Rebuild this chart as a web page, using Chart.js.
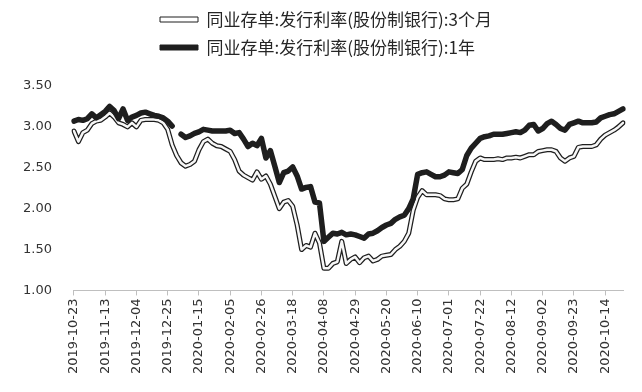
<!DOCTYPE html>
<html>
<head>
<meta charset="utf-8">
<script src="https://cdn.jsdelivr.net/npm/chart.js@4.4.1/dist/chart.umd.min.js"></script>
<style>
html,body{margin:0;padding:0;background:#fff;}
canvas{display:block;}
</style>
</head>
<body>
<canvas id="c" width="642" height="392"></canvas>
<script>
// ---- data ----
const seriesNames = ['同业存单:发行利率(股份制银行):3个月', '同业存单:发行利率(股份制银行):1年'];

const dates = [
 '2019-10-23','2019-10-26','2019-10-29','2019-11-01','2019-11-04','2019-11-07','2019-11-10',
 '2019-11-13','2019-11-16','2019-11-19','2019-11-22','2019-11-25','2019-11-28','2019-12-01',
 '2019-12-04','2019-12-07','2019-12-10','2019-12-13','2019-12-16','2019-12-19','2019-12-22',
 '2019-12-25','2019-12-28','2019-12-31','2020-01-03','2020-01-06','2020-01-09','2020-01-12',
 '2020-01-15','2020-01-18','2020-01-21','2020-01-24','2020-01-27','2020-01-30','2020-02-02',
 '2020-02-05','2020-02-08','2020-02-11','2020-02-14','2020-02-17','2020-02-20','2020-02-23',
 '2020-02-26','2020-02-29','2020-03-03','2020-03-06','2020-03-09','2020-03-12','2020-03-15',
 '2020-03-18','2020-03-21','2020-03-24','2020-03-27','2020-03-30','2020-04-02','2020-04-05',
 '2020-04-08','2020-04-11','2020-04-14','2020-04-17','2020-04-20','2020-04-23','2020-04-26',
 '2020-04-29','2020-05-02','2020-05-05','2020-05-08','2020-05-11','2020-05-14','2020-05-17',
 '2020-05-20','2020-05-23','2020-05-26','2020-05-29','2020-06-01','2020-06-04','2020-06-07',
 '2020-06-10','2020-06-13','2020-06-16','2020-06-19','2020-06-22','2020-06-25','2020-06-28',
 '2020-07-01','2020-07-04','2020-07-07','2020-07-10','2020-07-13','2020-07-16','2020-07-19',
 '2020-07-22','2020-07-25','2020-07-28','2020-07-31','2020-08-03','2020-08-06','2020-08-09',
 '2020-08-12','2020-08-15','2020-08-18','2020-08-21','2020-08-24','2020-08-27','2020-08-30',
 '2020-09-02','2020-09-05','2020-09-08','2020-09-11','2020-09-14','2020-09-17','2020-09-20',
 '2020-09-23','2020-09-26','2020-09-29','2020-10-02','2020-10-05','2020-10-08','2020-10-11',
 '2020-10-14','2020-10-17','2020-10-20','2020-10-23','2020-10-26'
];

const rate3m = [
 2.95,2.82,2.93,2.96,3.04,3.07,3.08,
 3.12,3.17,3.12,3.05,3.03,3.00,3.05,
 3.00,3.08,3.09,3.09,3.09,3.08,3.05,
 2.97,2.78,2.65,2.56,2.52,2.54,2.58,
 2.72,2.82,2.85,2.80,2.77,2.76,2.73,
 2.70,2.60,2.46,2.41,2.38,2.35,2.45,
 2.36,2.40,2.30,2.15,2.00,2.08,2.10,
 2.03,1.80,1.50,1.55,1.53,1.70,1.58,
 1.27,1.27,1.33,1.35,1.60,1.33,1.38,
 1.41,1.34,1.40,1.42,1.36,1.38,1.42,
 1.43,1.44,1.50,1.54,1.60,1.70,1.98,
 2.14,2.22,2.17,2.17,2.17,2.16,2.12,
 2.11,2.11,2.12,2.25,2.30,2.45,2.58,
 2.62,2.60,2.60,2.60,2.61,2.60,2.62,
 2.62,2.63,2.62,2.64,2.66,2.66,2.70,
 2.71,2.72,2.72,2.70,2.62,2.58,2.62,
 2.64,2.75,2.76,2.76,2.76,2.78,2.85,
 2.90,2.93,2.96,3.00,3.05
];

const rate1y = [
 3.07,3.09,3.08,3.10,3.16,3.11,3.15,
 3.19,3.25,3.20,3.10,3.22,3.08,3.12,
 3.14,3.17,3.18,3.16,3.14,3.13,3.11,
 3.07,3.01,null,2.91,2.87,2.89,2.92,
 2.94,2.97,2.96,2.95,2.95,2.95,2.95,
 2.96,2.92,2.93,2.85,2.76,2.80,2.77,
 2.86,2.62,2.71,2.52,2.32,2.44,2.46,
 2.51,2.40,2.24,2.26,2.27,2.08,2.07,
 1.60,1.65,1.70,1.69,1.71,1.68,1.69,
 1.68,1.66,1.64,1.69,1.70,1.73,1.77,
 1.80,1.82,1.87,1.90,1.92,2.00,2.12,
 2.42,2.44,2.45,2.42,2.39,2.39,2.41,
 2.45,2.44,2.43,2.48,2.65,2.74,2.80,
 2.86,2.88,2.89,2.91,2.91,2.91,2.92,
 2.93,2.94,2.93,2.96,3.02,3.03,2.95,
 2.98,3.04,3.07,3.03,2.98,2.96,3.03,
 3.05,3.07,3.05,3.05,3.05,3.06,3.11,
 3.13,3.15,3.16,3.19,3.22
];

const yMin = 1.0, yMax = 3.5, yStep = 0.5;
const labelEvery = 7;

// ---- chart ----
const INK = '#1e1e1e';

const legendPlace = {
  id: 'legendPlace',
  afterLayout(chart) {
    const lg = chart.legend;
    if (!lg) return;
    const h = lg.height;
    lg.left = 149;
    lg.top = 0;
    lg.bottom = h;
  }
};

new Chart(document.getElementById('c'), {
  type: 'line',
  data: {
    labels: dates,
    datasets: [
      { label: seriesNames[0], data: rate3m, borderColor: INK, borderWidth: 5, order: 2 },
      { label: seriesNames[0] + ' ', data: rate3m, borderColor: '#f7f7f7', borderWidth: 2.5, order: 1 },
      { label: seriesNames[1], data: rate1y, borderColor: INK, borderWidth: 5.5, order: 0, spanGaps: false }
    ]
  },
  options: {
    responsive: false,
    animation: false,
    events: [],
    elements: {
      point: { radius: 0, hoverRadius: 0 },
      line: { tension: 0, borderJoinStyle: 'round', borderCapStyle: 'round', fill: false }
    },
    layout: { padding: { left: 1, right: 19, top: 20, bottom: 15 } },
    font: { family: "'DejaVu Sans', sans-serif", size: 13 },
    plugins: {
      tooltip: { enabled: false },
      legend: {
        display: true,
        position: 'top',
        align: 'start',
        labels: {
          color: '#262626',
          font: { family: "'Noto Sans CJK SC', sans-serif", size: 17 },
          boxWidth: 38,
          boxHeight: 5,
          padding: 11,
          generateLabels: () => [
            { text: seriesNames[0], fillStyle: '#ffffff', strokeStyle: INK, lineWidth: 1, hidden: false, datasetIndex: 0, fontColor: '#262626' },
            { text: seriesNames[1], fillStyle: INK, strokeStyle: INK, lineWidth: 1, hidden: false, datasetIndex: 2, fontColor: '#262626' }
          ]
        }
      }
    },
    scales: {
      x: {
        type: 'category',
        offset: false,
        grid: { display: true, drawOnChartArea: false, drawTicks: true, tickLength: 5, color: '#bfbfbf' },
        border: { display: true, color: '#bfbfbf', width: 1 },
        afterBuildTicks: (scale) => {
          scale.ticks = scale.ticks.filter((t, i) => i % labelEvery === 0);
        },
        ticks: {
          autoSkip: false,
          minRotation: 90,
          maxRotation: 90,
          padding: 3,
          color: '#333333',
          font: { family: "'DejaVu Sans', sans-serif", size: 13 }
        }
      },
      y: {
        min: yMin,
        max: yMax,
        grid: { display: false, drawTicks: false },
        border: { display: false },
        ticks: {
          stepSize: yStep,
          padding: 22,
          color: '#333333',
          font: { family: "'DejaVu Sans', sans-serif", size: 13 },
          callback: (v) => Number(v).toFixed(2)
        }
      }
    }
  },
  plugins: [legendPlace]
});
</script>
</body>
</html>
